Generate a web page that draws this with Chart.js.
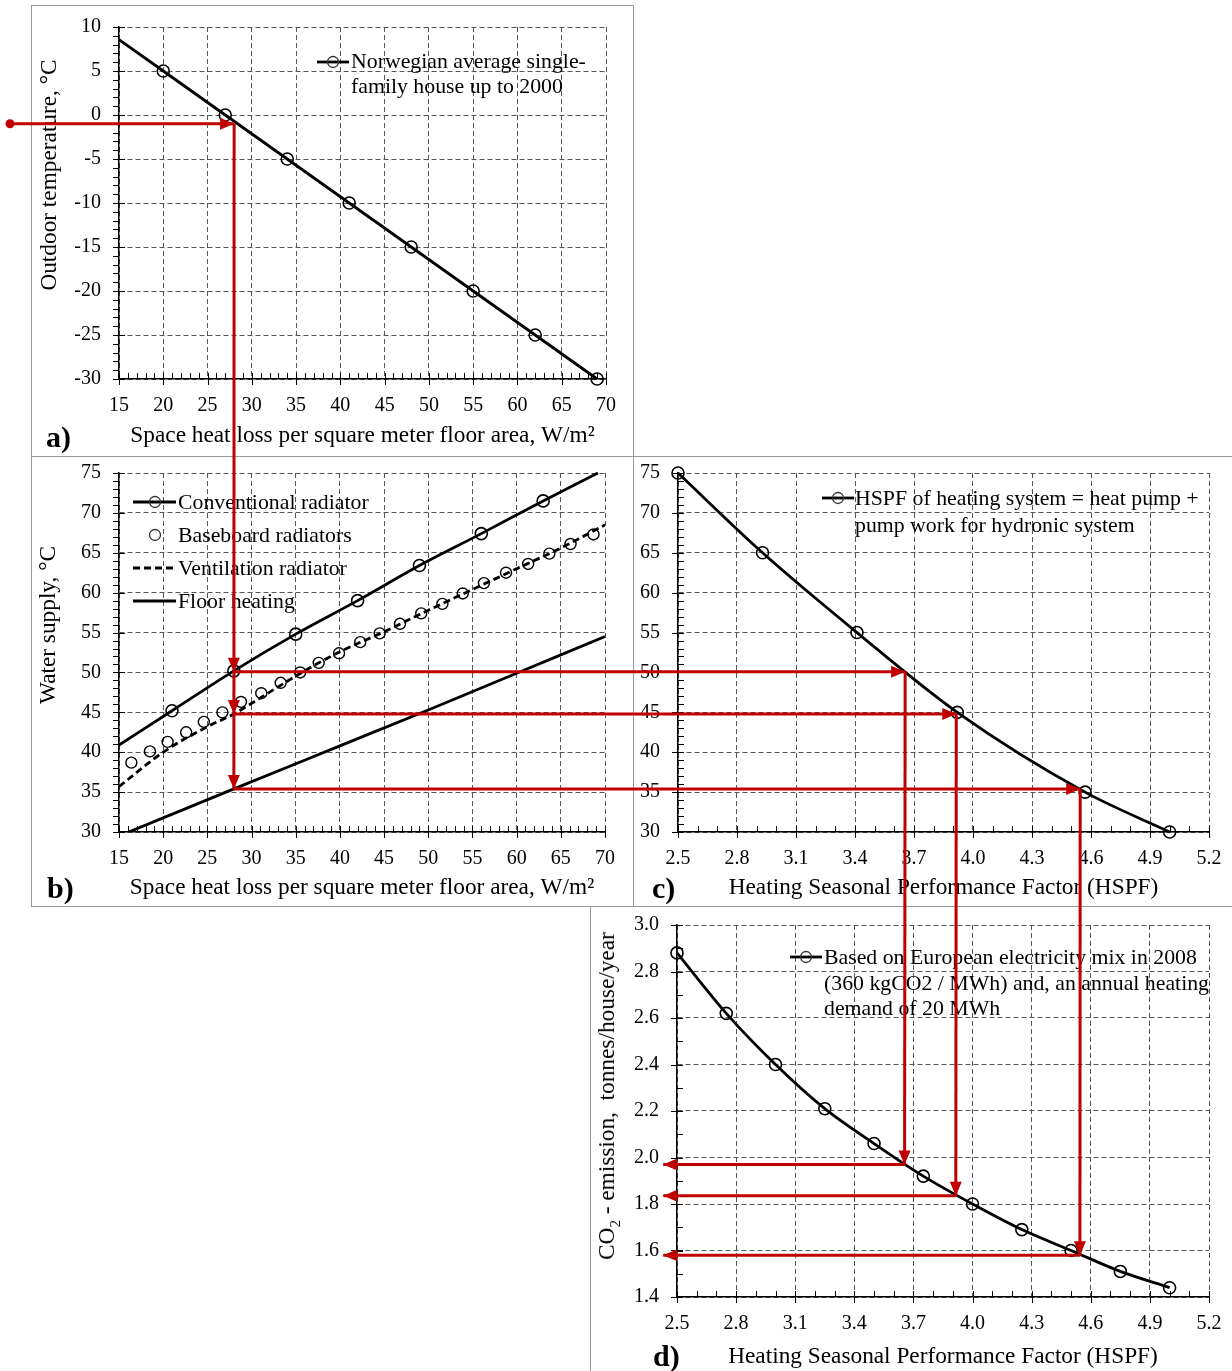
<!DOCTYPE html>
<html><head><meta charset="utf-8">
<script src="https://cdn.jsdelivr.net/npm/chart.js@4.4.1/dist/chart.umd.min.js"></script>
<style>
body{margin:0;background:#fff;width:1232px;height:1371px;overflow:hidden;position:relative;font-family:'Liberation Serif','Times New Roman',serif;}
canvas.ch{position:absolute;z-index:1;}
#ov{position:absolute;left:0;top:0;z-index:5;pointer-events:none;}
.frame{position:absolute;border:0 solid #9a9a9a;box-sizing:border-box;z-index:0;}
.txt{position:absolute;font-size:21.8px;line-height:25px;color:#000;white-space:nowrap;z-index:3;}
.lab{position:absolute;font-size:30px;line-height:32px;font-weight:bold;color:#000;z-index:3;}
.ytitle{position:absolute;font-size:23.3px;line-height:28px;color:#000;white-space:nowrap;z-index:3;transform:translate(-50%,-50%) rotate(-90deg);}
.ytitle sub{font-size:15px;line-height:0;}
</style></head><body>

<div class="frame" style="left:31px;top:5px;width:603px;height:452px;border-width:1px;"></div>
<div class="frame" style="left:31px;top:456px;width:603px;height:451px;border-width:0 1px 1px 1px;"></div>
<div class="frame" style="left:633px;top:456px;width:600px;height:451px;border-width:1px 0 1px 0;"></div>
<div class="frame" style="left:590px;top:906px;width:643px;height:466px;border-width:0 0 0 1px;"></div>

<canvas class="ch" id="ca" width="602" height="451" style="left:31px;top:5px"></canvas>
<canvas class="ch" id="cb" width="602" height="450" style="left:31px;top:456px"></canvas>
<canvas class="ch" id="cc" width="599" height="450" style="left:633px;top:456px"></canvas>
<canvas class="ch" id="cd" width="642" height="465" style="left:590px;top:906px"></canvas>

<div class="ytitle" style="left:48px;top:175px;">Outdoor temperature, °C</div>
<div class="ytitle" style="left:47px;top:625px;">Water supply, °C</div>
<div class="ytitle" style="left:606px;top:1096px;">CO<sub>2</sub> - emission,&nbsp; tonnes/house/year</div>

<div class="txt" style="left:351px;top:49px;">Norwegian average single-<br>family house up to 2000</div>
<div class="txt" style="left:178px;top:490px;">Conventional radiator</div>
<div class="txt" style="left:178px;top:523px;">Baseboard radiators</div>
<div class="txt" style="left:178px;top:556px;">Ventilation radiator</div>
<div class="txt" style="left:178px;top:589px;">Floor heating</div>
<div class="txt" style="left:855px;top:485px;line-height:27px;">HSPF of heating system = heat pump +<br>pump work for hydronic system</div>
<div class="txt" style="left:824px;top:945px;line-height:25.5px;">Based on European electricity mix in 2008<br>(360 kgCO2 / MWh) and, an annual heating<br>demand of 20 MWh</div>

<div class="lab" style="left:46px;top:421px;">a)</div>
<div class="lab" style="left:47px;top:872px;">b)</div>
<div class="lab" style="left:652px;top:872px;">c)</div>
<div class="lab" style="left:653px;top:1340px;">d)</div>

<canvas id="ov" width="1232" height="1371"></canvas>

<script>
// ---------- DATA ----------
// a) outdoor temperature vs. space heat loss
const heatLossA   = [15, 20, 27, 34, 41, 48, 55, 62, 69];
const outdoorTemp = [8.57, 5, 0, -5, -10, -15, -20, -25, -30];

// b) water supply temperature vs. space heat loss
const convX = [15, 21, 28, 35, 42, 49, 56, 63, 69.2];
const convY = [40.9, 45.2, 50.2, 54.8, 59.0, 63.4, 67.4, 71.5, 75];
const baseX = [16.4, 18.5, 20.5, 22.6, 24.6, 26.7, 28.8, 31.1, 33.3, 35.5, 37.6, 39.9, 42.3, 44.5, 46.8, 49.2, 51.6, 53.9, 56.3, 58.8, 61.3, 63.7, 66.1, 68.7];
const baseY = [38.7, 40.1, 41.3, 42.5, 43.8, 45.0, 46.3, 47.4, 48.7, 50.0, 51.2, 52.4, 53.8, 54.9, 56.1, 57.4, 58.6, 59.9, 61.2, 62.5, 63.6, 64.9, 66.1, 67.3];
const ventX = [15, 20, 25, 28, 32, 36, 40, 45, 50, 55, 60, 65, 70];
const ventY = [35.7, 40.0, 43.2, 44.8, 47.5, 50.2, 52.6, 55.1, 57.8, 60.4, 63.0, 65.6, 68.5];
const floorX = [16.1, 28, 40, 50, 60, 70];
const floorY = [30, 35.4, 40.8, 45.3, 49.9, 54.5];

// c) water supply temperature vs. HSPF
const hspfC   = [2.5, 2.93, 3.41, 3.92, 4.57, 5.0];
const supplyC = [75, 65, 55, 45, 35, 30];

// d) CO2 emission vs. HSPF
const hspfD = [2.5, 2.75, 3.0, 3.25, 3.5, 3.75, 4.0, 4.25, 4.5, 4.75, 5.0];
const co2D  = [2.88, 2.62, 2.40, 2.21, 2.06, 1.92, 1.80, 1.69, 1.60, 1.51, 1.44];

// red reading path
const designOutdoorTemp = -1;
const designHeatLoss = 28;
const supplyTemps = [50.1, 44.8, 35.4];
const resultingHspf = [3.655, 3.915, 4.545];
const resultingCo2 = [1.97, 1.835, 1.58];
const co2ArrowEndHspf = 2.43;

// tick labels
const heatLossTicks = ['15','20','25','30','35','40','45','50','55','60','65','70'];
const hspfTicks = ['2.5','2.8','3.1','3.4','3.7','4.0','4.3','4.6','4.9','5.2'];

// ---------- HELPERS ----------
const FONT = "'Liberation Serif', 'Times New Roman', serif";
const RED = '#c00000';
const LW = 2.8;
const pts = (xs, ys) => xs.map((x, i) => ({x, y: ys[i]}));

function scale(min, max, step, o) {
  return {
    type: 'linear', min, max,
    afterFit: s => { if (o.isX) s.height = o.fix; else s.width = o.fix; },
    ticks: {stepSize: step, autoSkip: false, maxTicksLimit: 50, maxRotation: 0, minRotation: 0,
      padding: 0, color: '#000', font: {family: FONT, size: 20},
      callback: o.fmt || (v => String(v))},
    grid: {color: '#555', lineWidth: 1, drawTicks: true, tickLength: o.tickLen, tickColor: 'rgba(0,0,0,0)'},
    border: {display: true, color: '#000', width: 1.5, dash: [5, 3]},
    title: o.title ? {display: true, text: o.title, color: '#000',
      font: {family: FONT, size: 23.3, lineHeight: 1.2},
      padding: {top: 0, bottom: o.titlePad}} : {display: false}
  };
}

const minorTicks = {
  id: 'minorTicks',
  afterDraw(chart, args, opts) {
    const {ctx, chartArea: a, scales: {x, y}} = chart;
    ctx.save(); ctx.strokeStyle = '#000'; ctx.lineWidth = 1; ctx.beginPath();
    const n1 = Math.round((x.max - x.min) / opts.xMinor);
    for (let i = 0; i <= n1; i++) {
      const px = Math.round(x.getPixelForValue(x.min + i * opts.xMinor)) + 0.5;
      ctx.moveTo(px, a.bottom); ctx.lineTo(px, a.bottom - 6);
    }
    x.ticks.forEach(t => { const px = Math.round(x.getPixelForValue(t.value)) + 0.5; ctx.moveTo(px, a.bottom - 6); ctx.lineTo(px, a.bottom + 6); });
    const n2 = Math.round((y.max - y.min) / opts.yMinor);
    const dir = opts.yInside ? 1 : -1;
    for (let i = 0; i <= n2; i++) {
      const py = Math.round(y.getPixelForValue(y.min + i * opts.yMinor)) + 0.5;
      ctx.moveTo(a.left, py); ctx.lineTo(a.left + dir * 6, py);
    }
    y.ticks.forEach(t => { const py = Math.round(y.getPixelForValue(t.value)) + 0.5; ctx.moveTo(a.left - 6, py); ctx.lineTo(a.left + 6, py); });
    ctx.stroke(); ctx.restore();
  }
};

function baseOptions(pad, xs, ys, minor) {
  return {
    responsive: false, animation: false, events: [],
    layout: {padding: pad},
    plugins: {legend: {display: false}, tooltip: {enabled: false}, minorTicks: minor},
    scales: {x: xs, y: ys}
  };
}

const markerStyle = {pointBorderColor: '#000', pointBackgroundColor: 'rgba(0,0,0,0)', pointBorderWidth: 1.6, pointStyle: 'circle', clip: false};

// ---------- CHART a ----------
const chA = new Chart(document.getElementById('ca'), {
  type: 'scatter',
  data: {datasets: [Object.assign({
    label: 'Norwegian average single-family house up to 2000',
    data: pts(heatLossA, outdoorTemp), showLine: true, borderColor: '#000', borderWidth: LW,
    pointRadius: c => c.dataIndex === 0 ? 0 : 6
  }, markerStyle)]},
  options: baseOptions({left: 0, right: 27, top: 22, bottom: 0},
    scale(15, 70, 5, {isX: true, fix: 77, tickLen: 15, titlePad: 6, title: 'Space heat loss per square meter floor area, W/m²', fmt: (v, i) => heatLossTicks[i]}),
    scale(-30, 10, 5, {isX: false, fix: 88, tickLen: 18}),
    {xMinor: 1, yMinor: 1, yInside: false}),
  plugins: [minorTicks]
});

// ---------- CHART b ----------
const chB = new Chart(document.getElementById('cb'), {
  type: 'scatter',
  data: {datasets: [
    Object.assign({label: 'Conventional radiator', data: pts(convX, convY), showLine: true, borderColor: '#000', borderWidth: LW,
      cubicInterpolationMode: 'monotone', pointRadius: c => (c.dataIndex === 0 || c.dataIndex === convX.length - 1) ? 0 : 6}, markerStyle),
    Object.assign({label: 'Baseboard radiators', data: pts(baseX, baseY), showLine: false, pointRadius: 5.5}, markerStyle, {pointBorderWidth: 1.4}),
    {label: 'Ventilation radiator', data: pts(ventX, ventY), showLine: true, borderColor: '#000', borderWidth: LW, borderDash: [7, 4],
      cubicInterpolationMode: 'monotone', pointRadius: 0},
    {label: 'Floor heating', data: pts(floorX, floorY), showLine: true, borderColor: '#000', borderWidth: LW,
      cubicInterpolationMode: 'monotone', pointRadius: 0}
  ]},
  options: baseOptions({left: 0, right: 28, top: 17, bottom: 0},
    scale(15, 70, 5, {isX: true, fix: 74, tickLen: 15, titlePad: 4.6, title: 'Space heat loss per square meter floor area, W/m²', fmt: (v, i) => heatLossTicks[i]}),
    scale(30, 75, 5, {isX: false, fix: 88, tickLen: 18}),
    {xMinor: 1, yMinor: 1, yInside: false}),
  plugins: [minorTicks]
});

// ---------- CHART c ----------
const chC = new Chart(document.getElementById('cc'), {
  type: 'scatter',
  data: {datasets: [Object.assign({label: 'HSPF of heating system = heat pump + pump work for hydronic system', data: pts(hspfC, supplyC), showLine: true, borderColor: '#000', borderWidth: LW,
    cubicInterpolationMode: 'monotone', pointRadius: 6}, markerStyle)]},
  options: baseOptions({left: 0, right: 23, top: 17, bottom: 0},
    scale(2.5, 5.2, 0.3, {isX: true, fix: 74, tickLen: 15, titlePad: 4.6, title: 'Heating Seasonal Performance Factor (HSPF)', fmt: (v, i) => hspfTicks[i]}),
    scale(30, 75, 5, {isX: false, fix: 45, tickLen: 18}),
    {xMinor: 0.1, yMinor: 1, yInside: true}),
  plugins: [minorTicks]
});

// ---------- CHART d ----------
const chD = new Chart(document.getElementById('cd'), {
  type: 'scatter',
  data: {datasets: [Object.assign({label: 'Based on European electricity mix in 2008', data: pts(hspfD, co2D), showLine: true, borderColor: '#000', borderWidth: LW,
    cubicInterpolationMode: 'monotone', pointRadius: 6}, markerStyle)]},
  options: baseOptions({left: 0, right: 23, top: 19, bottom: 0},
    scale(2.5, 5.2, 0.3, {isX: true, fix: 74, tickLen: 15, titlePad: 0, title: 'Heating Seasonal Performance Factor (HSPF)', fmt: (v, i) => hspfTicks[i]}),
    scale(1.4, 3.0, 0.2, {isX: false, fix: 87, tickLen: 18, fmt: v => v.toFixed(1)}),
    {xMinor: 0.1, yMinor: 0.1, yInside: true}),
  plugins: [minorTicks]
});

// ---------- OVERLAY: legend symbols + red reading path ----------
const ov = document.getElementById('ov').getContext('2d');
function P(chart, xv, yv) {
  const c = chart.canvas;
  return [c.offsetLeft + chart.scales.x.getPixelForValue(xv), c.offsetTop + chart.scales.y.getPixelForValue(yv)];
}
function seg(a, b) { ov.beginPath(); ov.moveTo(a[0], a[1]); ov.lineTo(b[0], b[1]); ov.stroke(); }
function head(tip, dx, dy) {
  const L = 14, W = 6, bx = tip[0] - dx * L, by = tip[1] - dy * L;
  ov.beginPath(); ov.moveTo(tip[0], tip[1]);
  ov.lineTo(bx - dy * W, by + dx * W); ov.lineTo(bx + dy * W, by - dx * W); ov.closePath(); ov.fill();
}

// legend symbols
function legLine(x1, x2, y, dash) {
  ov.save(); ov.strokeStyle = '#000'; ov.lineWidth = LW; ov.setLineDash(dash || []);
  ov.beginPath(); ov.moveTo(x1, y); ov.lineTo(x2, y); ov.stroke(); ov.restore();
}
function legCircle(x, y, r) {
  ov.save(); ov.strokeStyle = '#333'; ov.lineWidth = 1.3; ov.beginPath(); ov.arc(x, y, r, 0, Math.PI * 2); ov.stroke(); ov.restore();
}
legLine(317, 349, 62); legCircle(333, 62, 5.5);
legLine(133, 176, 502); legCircle(155, 502, 5.5);
legCircle(155, 535, 5.5);
legLine(133, 176, 568, [7, 4]);
legLine(133, 176, 601);
legLine(822, 854, 498); legCircle(838, 498, 5.5);
legLine(790, 822, 957); legCircle(806, 957, 5.5);

// red path
ov.strokeStyle = RED; ov.fillStyle = RED; ov.lineWidth = 3;
const start = P(chA, designHeatLoss, designOutdoorTemp);
ov.beginPath(); ov.arc(10, start[1], 4.5, 0, Math.PI * 2); ov.fill();
seg([10, start[1]], start); head(start, 1, 0);
const bottomB = P(chB, designHeatLoss, supplyTemps[supplyTemps.length - 1]);
seg(start, bottomB);
supplyTemps.forEach((t, i) => {
  const pb = P(chB, designHeatLoss, t);
  head(pb, 0, 1);
  const pc = P(chC, resultingHspf[i], t);
  seg(pb, pc); head(pc, 1, 0);
  const pd = P(chD, resultingHspf[i], resultingCo2[i]);
  seg(pc, pd); head(pd, 0, 1);
  const pe = P(chD, co2ArrowEndHspf, resultingCo2[i]);
  seg(pd, pe); head(pe, -1, 0);
});
</script>
</body></html>
